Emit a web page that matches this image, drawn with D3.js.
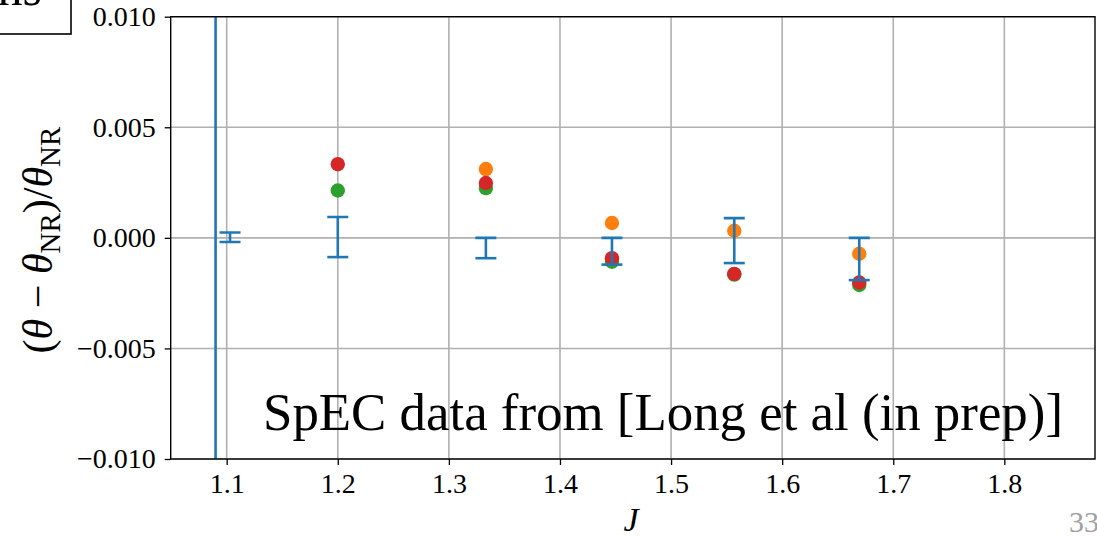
<!DOCTYPE html>
<html>
<head>
<meta charset="utf-8">
<script src="https://cdn.jsdelivr.net/npm/d3@7/dist/d3.min.js"></script>
<style>
  html, body { margin: 0; padding: 0; background: #fff; }
  svg { display: block; }
</style>
</head>
<body>
<svg id="chart" width="1097" height="536"></svg>
<script>
// Relative deviation of theta from the NR value, as a function of J
const xTicks = [1.1, 1.2, 1.3, 1.4, 1.5, 1.6, 1.7, 1.8];
const yTicks = [0.010, 0.005, 0.000, -0.005, -0.010];

// error bars (blue): position, lower and upper ends
const errJ     = [1.090, 1.103, 1.200, 1.3333, 1.4468, 1.5569, 1.6694];
const errLow   = [-0.050, -0.00019, -0.00087, -0.00092, -0.00121, -0.00114, -0.00191];
const errHigh  = [ 0.050,  0.00024,  0.00094,  0.00000,  0.00000,  0.00089,  0.00000];

// SpEC points
const specJ      = [1.200, 1.3333, 1.4468, 1.5569, 1.6694];
const orangeVals = [null, 0.00311, 0.00067, 0.00032, -0.00072];
const greenVals  = [0.00214, 0.00225, -0.00108, -0.00166, -0.00213];
const redVals    = [0.00333, 0.00248, -0.00092, -0.00163, -0.00202];

const colors = { blue: "#1f77b4", orange: "#ff7f0e", green: "#2ca02c", red: "#d62728" };

const svg = d3.select("#chart");
const L = 170.7, R = 1095, T = 16.7, B = 459;

const x = d3.scaleLinear().domain([1.0496, 1.8816]).range([L, R]);
const y = d3.scaleLinear().domain([-0.010, 0.010]).range([B, T]);

const serif = "'Liberation Serif', 'DejaVu Serif', serif";

svg.append("defs").append("clipPath").attr("id", "plotclip")
  .append("rect").attr("x", L).attr("y", T).attr("width", R - L).attr("height", B - T);

// grid
const grid = svg.append("g");
grid.selectAll("line.gx").data(xTicks).join("line")
  .attr("x1", d => x(d)).attr("x2", d => x(d)).attr("y1", T).attr("y2", B)
  .attr("stroke", "#b0b0b0").attr("stroke-width", 1.6);
grid.selectAll("line.gy").data(yTicks).join("line")
  .attr("x1", L).attr("x2", R).attr("y1", d => y(d)).attr("y2", d => y(d))
  .attr("stroke", "#b0b0b0").attr("stroke-width", 1.6);

// points
const plot = svg.append("g").attr("clip-path", "url(#plotclip)");
function drawSeries(vals, color) {
  const pts = specJ.map((j, i) => ({ j, v: vals[i] })).filter(d => d.v !== null);
  plot.append("g").selectAll("circle").data(pts).join("circle")
    .attr("cx", d => x(d.j)).attr("cy", d => y(d.v)).attr("r", 7.2)
    .attr("fill", color);
}
drawSeries(orangeVals, colors.orange);
drawSeries(greenVals, colors.green);
drawSeries(redVals, colors.red);

// error bars
const errs = errJ.map((j, i) => ({ j, lo: errLow[i], hi: errHigh[i] }));
const eg = plot.append("g");
eg.selectAll("line.stem").data(errs).join("line")
  .attr("x1", d => x(d.j)).attr("x2", d => x(d.j))
  .attr("y1", d => y(d.lo)).attr("y2", d => y(d.hi))
  .attr("stroke", colors.blue).attr("stroke-width", 2.6);
const capHalf = 10.5;
["lo", "hi"].forEach(k => {
  eg.selectAll("line.cap" + k).data(errs).join("line")
    .attr("x1", d => x(d.j) - capHalf).attr("x2", d => x(d.j) + capHalf)
    .attr("y1", d => y(d[k])).attr("y2", d => y(d[k]))
    .attr("stroke", colors.blue).attr("stroke-width", 2.6);
});

// axes
const xAxis = svg.append("g").attr("transform", `translate(0,${B})`)
  .call(d3.axisBottom(x).tickValues(xTicks).tickSize(6).tickPadding(8).tickFormat(d3.format(".1f")));
const yAxis = svg.append("g").attr("transform", `translate(${L},0)`)
  .call(d3.axisLeft(y).tickValues(yTicks).tickSize(6).tickPadding(9)
    .tickFormat(d => (d < 0 ? "\u2212" : "") + d3.format(".3f")(Math.abs(d))));
[xAxis, yAxis].forEach(a => {
  a.attr("font-family", serif);
  a.select(".domain").remove();
  a.selectAll(".tick line").attr("stroke", "#000").attr("stroke-width", 1.3);
  a.selectAll(".tick text").attr("font-family", serif).attr("font-size", 28).attr("fill", "#000");
});
xAxis.selectAll(".tick text").attr("dy", "0.71em");

// frame
svg.append("rect").attr("x", L).attr("y", T).attr("width", R - L).attr("height", B - T)
  .attr("fill", "none").attr("stroke", "#000").attr("stroke-width", 1.4);

// annotation
const note = svg.append("text").attr("x", 263).attr("y", 430)
  .attr("font-family", serif).attr("font-size", 52).attr("fill", "#000")
  .text("SpEC data from [Long et al (in prep)]");
const nw = note.node().getComputedTextLength();
note.attr("font-size", 52 * 800 / nw);

// axis labels
svg.append("text").attr("x", 631).attr("y", 531).attr("text-anchor", "middle")
  .attr("font-family", serif).attr("font-style", "italic").attr("font-size", 34)
  .text("J");

const yl = svg.append("text")
  .attr("transform", "translate(52,240) rotate(-90)")
  .attr("text-anchor", "middle")
  .attr("font-family", serif).attr("font-size", 42);
yl.append("tspan").text("(");
yl.append("tspan").attr("font-style", "italic").text("\u03b8");
yl.append("tspan").text(" \u2212 ");
yl.append("tspan").attr("font-style", "italic").text("\u03b8");
yl.append("tspan").attr("font-size", 29).attr("dy", 8).text("NR");
yl.append("tspan").attr("dy", -8).text(")/");
yl.append("tspan").attr("font-style", "italic").text("\u03b8");
yl.append("tspan").attr("font-size", 29).attr("dy", 8).text("NR");

// boxed label at the top-left corner
svg.append("rect").attr("x", -2).attr("y", -20).attr("width", 73).attr("height", 54)
  .attr("fill", "#fff").attr("stroke", "#000").attr("stroke-width", 1.6);
svg.append("text").attr("x", 42).attr("y", 5).attr("text-anchor", "end")
  .attr("font-family", serif).attr("font-size", 50).text("ns");

// page number
svg.append("text").attr("x", 1069).attr("y", 532)
  .attr("font-family", serif).attr("font-size", 30).attr("fill", "#a0a0a0").text("33");
</script>
</body>
</html>
